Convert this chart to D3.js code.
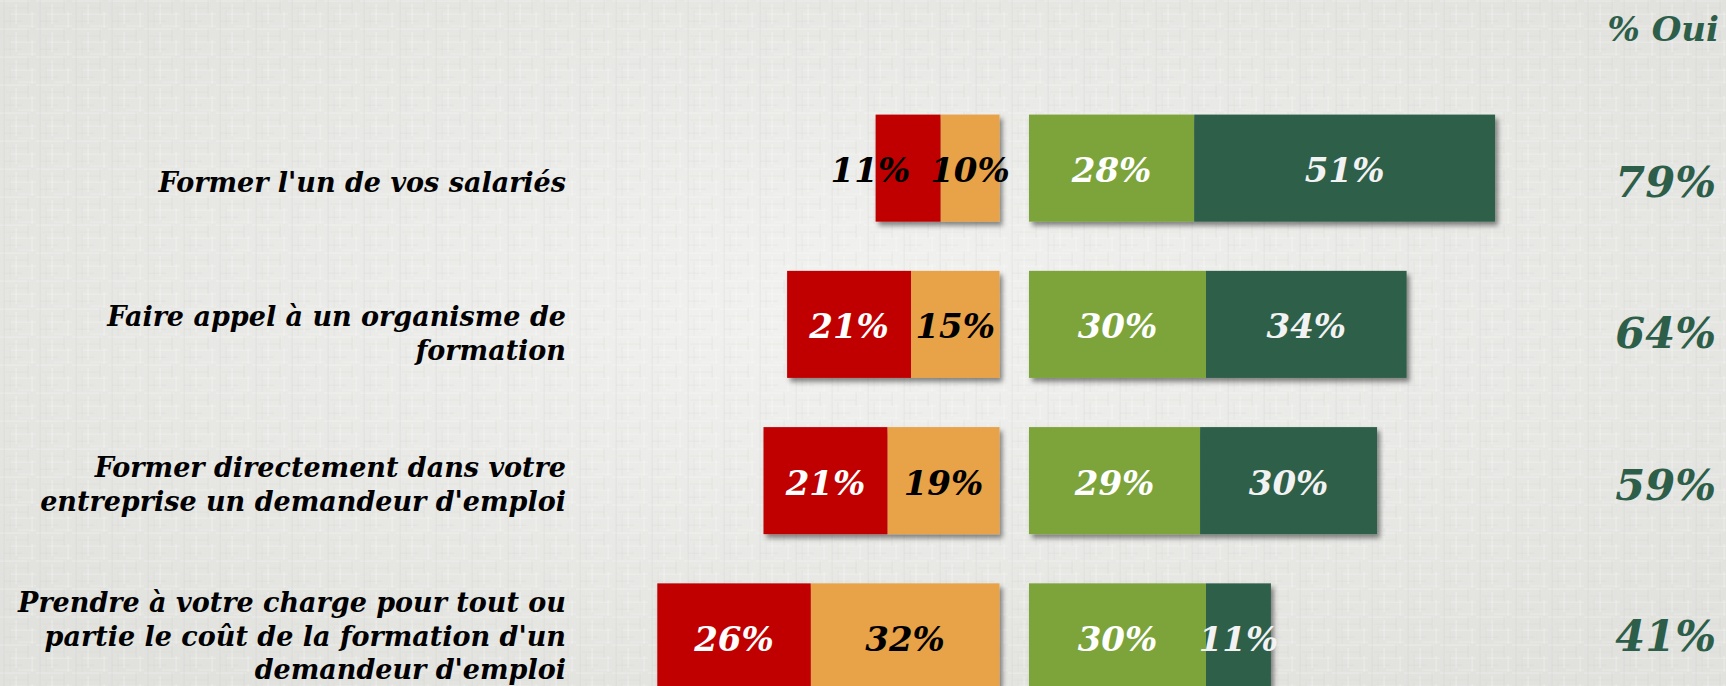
<!DOCTYPE html>
<html>
<head>
<meta charset="utf-8">
<script src="https://cdn.jsdelivr.net/npm/d3@7"></script>
<style>
  body { margin: 0; overflow: hidden; background: #e5e5e2; }
</style>
</head>
<body>
<div id="container"></div>
<script>
// Data
const categories = [
    "Former l'un de vos salariés",
    "Faire appel à un organisme de\nformation",
    "Former directement dans votre\nentreprise un demandeur d'emploi",
    "Prendre à votre charge pour tout ou\npartie le coût de la formation d'un\ndemandeur d'emploi"
];
const nonPasDuTout = [11, 21, 21, 26];
const nonPlutotPas = [10, 15, 19, 32];
const ouiPlutot = [28, 30, 29, 30];
const ouiToutAFait = [51, 34, 30, 11];
const totalOui = [79, 64, 59, 41];
const totalTitle = "% Oui";

const width = 1726;
const height = 686;
const font = "Georgia, 'DejaVu Serif', serif";

const colors = {
    pasDuTout: "#c00000",
    plutotPas: "#e8a247",
    ouiPlutot: "#7ba43a",
    ouiTout: "#2d5e49"
};
const green = "#2d5e49";

const rows = categories.map((c, i) => ({
    cat: c,
    plutotPas: nonPlutotPas[i],
    pasDuTout: nonPasDuTout[i],
    ouiPlutot: ouiPlutot[i],
    ouiTout: ouiToutAFait[i],
    total: totalOui[i]
}));

const svg = d3.select("#container")
    .append("svg")
    .attr("width", width)
    .attr("height", height);

const defs = svg.append("defs");

// linen-ish background
const grad = defs.append("radialGradient").attr("id", "bgGlow")
    .attr("cx", "50%").attr("cy", "45%").attr("r", "65%");
grad.append("stop").attr("offset", "0%").attr("stop-color", "#f2f2f0");
grad.append("stop").attr("offset", "100%").attr("stop-color", "#e1e1de");

const pat = defs.append("pattern").attr("id", "linen")
    .attr("patternUnits", "userSpaceOnUse").attr("width", 36).attr("height", 28);
[[0, 0.5, 30, "#ffffff", 0.25], [6, 7.5, 22, "#bfbfbb", 0.12], [10, 13.5, 26, "#ffffff", 0.22],
 [4, 20.5, 18, "#c4c4c0", 0.14], [18, 25.5, 18, "#ffffff", 0.18]].forEach(([x, y, w, c, o]) => {
    pat.append("rect").attr("x", x).attr("y", y).attr("width", w).attr("height", 1.2)
        .attr("fill", c).attr("opacity", o);
});
[[3.5, 0, 28, "#c8c8c4", 0.22], [15.5, 4, 20, "#ffffff", 0.3], [27.5, 0, 14, "#c2c2be", 0.2],
 [31.5, 12, 16, "#ffffff", 0.28], [9.5, 10, 18, "#c6c6c2", 0.15]].forEach(([x, y, h, c, o]) => {
    pat.append("rect").attr("x", x).attr("y", y).attr("width", 1.2).attr("height", h)
        .attr("fill", c).attr("opacity", o);
});

const shadow = defs.append("filter").attr("id", "shadow")
    .attr("x", "-5%").attr("y", "-10%").attr("width", "115%").attr("height", "130%");
shadow.append("feDropShadow").attr("dx", 3).attr("dy", 4)
    .attr("stdDeviation", 2.5).attr("flood-color", "#000").attr("flood-opacity", 0.45);

svg.append("rect").attr("width", width).attr("height", height).attr("fill", "url(#bgGlow)");
svg.append("rect").attr("width", width).attr("height", height).attr("fill", "url(#linen)");

// Scales
const y = d3.scaleBand()
    .domain(categories)
    .range([90, 715])
    .paddingInner(0.315)
    .paddingOuter(0.1575);

const yLabel = d3.scalePoint()
    .domain(categories)
    .range([182, 636]);

const xLeft = d3.scaleLinear().domain([0, 60]).range([999.5, 999.5 - 354]);
const xRight = d3.scaleLinear().domain([0, 60]).range([1029, 1029 + 354]);

const leftStack = d3.stack().keys(["plutotPas", "pasDuTout"])(rows);
const rightStack = d3.stack().keys(["ouiPlutot", "ouiTout"])(rows);

// Bars
const leftG = svg.append("g").attr("filter", "url(#shadow)");
leftStack.forEach(s => {
    leftG.selectAll(null)
        .data(s)
        .enter()
        .append("rect")
        .attr("x", d => xLeft(d[1]))
        .attr("y", d => y(d.data.cat))
        .attr("width", d => xLeft(d[0]) - xLeft(d[1]))
        .attr("height", y.bandwidth())
        .attr("fill", colors[s.key]);
});

const rightG = svg.append("g").attr("filter", "url(#shadow)");
rightStack.forEach(s => {
    rightG.selectAll(null)
        .data(s)
        .enter()
        .append("rect")
        .attr("x", d => xRight(d[0]))
        .attr("y", d => y(d.data.cat))
        .attr("width", d => xRight(d[1]) - xRight(d[0]))
        .attr("height", y.bandwidth())
        .attr("fill", colors[s.key]);
});

// Data labels
const labelG = svg.append("g")
    .attr("font-family", font)
    .attr("font-style", "italic")
    .attr("font-weight", "bold")
    .attr("font-size", 34)
    .attr("text-anchor", "middle");

function addLabel(cx, d, key, value) {
    return labelG.append("text")
        .attr("x", cx)
        .attr("y", y(d.data.cat) + y.bandwidth() / 2 + 2)
        .attr("dominant-baseline", "central")
        .attr("fill", key === "plutotPas" ? "#000" : (key === "ouiTout" ? "#f2f2f2" : "#fff"))
        .text(value + "%");
}

rows.forEach((r, i) => {
    const orange = leftStack[0][i], red = leftStack[1][i];
    const oCx = (xLeft(orange[0]) + xLeft(orange[1])) / 2;
    let rCx = (xLeft(red[0]) + xLeft(red[1])) / 2;
    const oT = addLabel(oCx, orange, "plutotPas", r.plutotPas);
    const rT = addLabel(rCx, red, "pasDuTout", r.pasDuTout);
    const oW = oT.node().getComputedTextLength();
    const rW = rT.node().getComputedTextLength();
    // push the outer label left if it collides with the inner one
    const overlap = (rCx + rW / 2 + 20) - (oCx - oW / 2);
    if (overlap > 0) {
        rCx -= overlap;
        rT.attr("x", rCx).attr("fill", "#000");
    }
    rightStack.forEach(s => {
        const d = s[i];
        addLabel((xRight(d[0]) + xRight(d[1])) / 2, d, s.key, d[1] - d[0]);
    });
});

// Category labels
const catG = svg.append("g")
    .attr("font-family", font)
    .attr("font-style", "italic")
    .attr("font-weight", "bold")
    .attr("font-size", 27)
    .attr("fill", "#000")
    .attr("text-anchor", "end");

categories.forEach(c => {
    const lines = c.split("\n");
    const t = catG.append("text");
    lines.forEach((ln, j) => {
        t.append("tspan")
            .attr("x", 566)
            .attr("y", yLabel(c) + (j - (lines.length - 1) / 2) * 33.5)
            .attr("dominant-baseline", "central")
            .text(ln);
    });
});

// Totals column
svg.append("text")
    .attr("x", 1719)
    .attr("y", 29)
    .attr("text-anchor", "end")
    .attr("dominant-baseline", "central")
    .attr("font-family", font)
    .attr("font-style", "italic")
    .attr("font-weight", "bold")
    .attr("font-size", 34)
    .attr("fill", green)
    .text(totalTitle);

svg.append("g")
    .selectAll("text")
    .data(rows)
    .enter()
    .append("text")
    .attr("x", 1716)
    .attr("y", d => yLabel(d.cat))
    .attr("text-anchor", "end")
    .attr("dominant-baseline", "central")
    .attr("font-family", font)
    .attr("font-style", "italic")
    .attr("font-weight", "bold")
    .attr("font-size", 43)
    .attr("fill", green)
    .text(d => d.total + "%");
</script>
</body>
</html>
